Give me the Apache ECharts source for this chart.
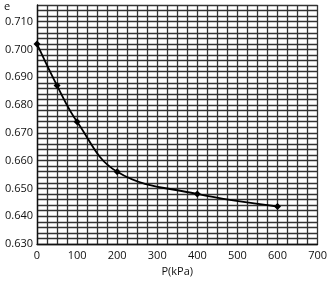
<!DOCTYPE html>
<html>
<head>
<meta charset="utf-8">
<script src="https://cdn.jsdelivr.net/npm/echarts@6/dist/echarts.min.js"></script>
<style>
  html, body { margin: 0; padding: 0; background: #fff; }
  #chart { width: 330px; height: 282px; }
</style>
</head>
<body>
<div id="chart"></div>
<script>
// pressure (kPa) and void ratio
var pressure = [0, 50, 100, 200, 400, 600];
var voidRatio = [0.702, 0.687, 0.674, 0.656, 0.648, 0.6435];
var xLabels = [0, 100, 200, 300, 400, 500, 600, 700];
var yLabels = [0.63, 0.64, 0.65, 0.66, 0.67, 0.68, 0.69, 0.70, 0.71];

var font = '"Open Sans", sans-serif';
var gridLine = { show: true, lineStyle: { color: '#333', width: 1.3 } };

var chart = echarts.init(document.getElementById('chart'), null, { renderer: 'canvas' });
chart.setOption({
  animation: false,
  backgroundColor: '#fff',
  grid: { left: 37, right: 8, top: 5, bottom: 31, containLabel: false },
  xAxis: {
    type: 'value',
    min: 0,
    max: 700,
    interval: 25,
    name: 'P(kPa)',
    nameLocation: 'middle',
    nameGap: 22,
    nameTextStyle: { fontFamily: font, fontSize: 11, color: '#111' },
    axisLine: { show: true, lineStyle: { color: '#111', width: 1.3 } },
    axisTick: { show: false },
    splitLine: gridLine,
    axisLabel: {
      fontFamily: font, fontSize: 11, color: '#111', margin: 6,
      formatter: function (v) {
        return xLabels.indexOf(Math.round(v)) >= 0 ? String(Math.round(v)) : '';
      }
    }
  },
  yAxis: {
    type: 'value',
    min: 0.63,
    max: 0.716,
    interval: 0.002,
    axisLine: { show: true, lineStyle: { color: '#111', width: 1.3 } },
    axisTick: { show: false },
    splitLine: gridLine,
    axisLabel: {
      fontFamily: font, fontSize: 11, color: '#111', margin: 4,
      formatter: function (v) {
        for (var i = 0; i < yLabels.length; i++) {
          if (Math.abs(v - yLabels[i]) < 1e-6) return yLabels[i].toFixed(3);
        }
        return '';
      }
    }
  },
  graphic: [{
    type: 'text', left: 4, top: 1,
    style: { text: 'e', font: '11px "Open Sans", sans-serif', fill: '#111' }
  }],
  series: [{
    type: 'line',
    data: pressure.map(function (p, i) { return [p, voidRatio[i]]; }),
    smooth: 0.4,
    symbol: 'diamond',
    symbolSize: 7,
    lineStyle: { color: '#000', width: 1.8 },
    itemStyle: { color: '#000' }
  }]
});
</script>
</body>
</html>
